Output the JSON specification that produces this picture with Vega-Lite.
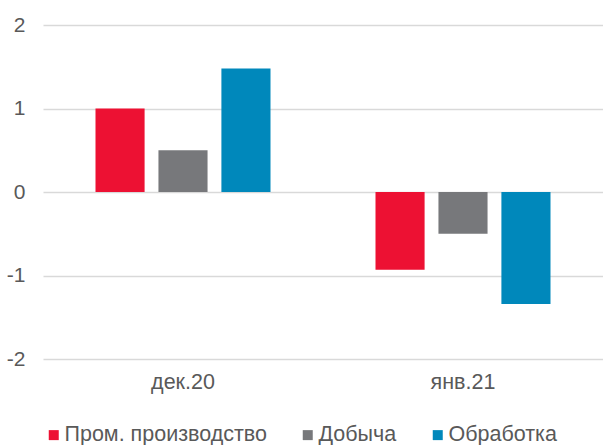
{
  "$schema": "https://vega.github.io/schema/vega-lite/v6.json",
  "autosize": {"type": "none"},
  "width": 560,
  "height": 334,
  "padding": {"left": 43, "top": 25, "right": 0, "bottom": 86},
  "background": "white",
  "data": {
    "values": [
      {"month": "дек.20", "series": "Пром. производство", "value": 1.0},
      {"month": "дек.20", "series": "Добыча", "value": 0.5},
      {"month": "дек.20", "series": "Обработка", "value": 1.48},
      {"month": "янв.21", "series": "Пром. производство", "value": -0.93},
      {"month": "янв.21", "series": "Добыча", "value": -0.5},
      {"month": "янв.21", "series": "Обработка", "value": -1.34}
    ]
  },
  "config": {
    "font": "Liberation Sans",
    "view": {"stroke": null}
  },
  "mark": {"type": "bar"},
  "encoding": {
    "x": {
      "field": "month",
      "type": "nominal",
      "sort": null,
      "scale": {"paddingInner": 0.375, "paddingOuter": 0.1875},
      "axis": {
        "title": null,
        "labelAngle": 0,
        "domain": false,
        "ticks": false,
        "labelFontSize": 21.5,
        "labelColor": "#595959",
        "labelPadding": 12
      }
    },
    "xOffset": {
      "field": "series",
      "type": "nominal",
      "sort": ["Пром. производство", "Добыча", "Обработка"],
      "scale": {"paddingInner": 0.22, "paddingOuter": 0}
    },
    "y": {
      "field": "value",
      "type": "quantitative",
      "scale": {"domain": [-2, 2], "nice": false},
      "axis": {
        "title": null,
        "values": [-2, -1, 0, 1, 2],
        "labelExpr": "'' + datum.value",
        "domain": false,
        "ticks": false,
        "labelFontSize": 21,
        "labelColor": "#595959",
        "labelPadding": 18,
        "gridColor": "#D9D9D9",
        "gridWidth": 1.3
      }
    },
    "color": {
      "field": "series",
      "type": "nominal",
      "sort": ["Пром. производство", "Добыча", "Обработка"],
      "scale": {
        "domain": ["Пром. производство", "Добыча", "Обработка"],
        "range": ["#ED1133", "#77787B", "#0088BB"]
      },
      "legend": {
        "title": null,
        "orient": "bottom",
        "direction": "horizontal",
        "symbolType": "square",
        "symbolSize": 100,
        "symbolStrokeWidth": 0,
        "labelFontSize": 21.5,
        "labelLimit": 400,
        "labelColor": "#595959",
        "labelOffset": 0,
        "columnPadding": 30,
        "offset": 31
      }
    }
  }
}
